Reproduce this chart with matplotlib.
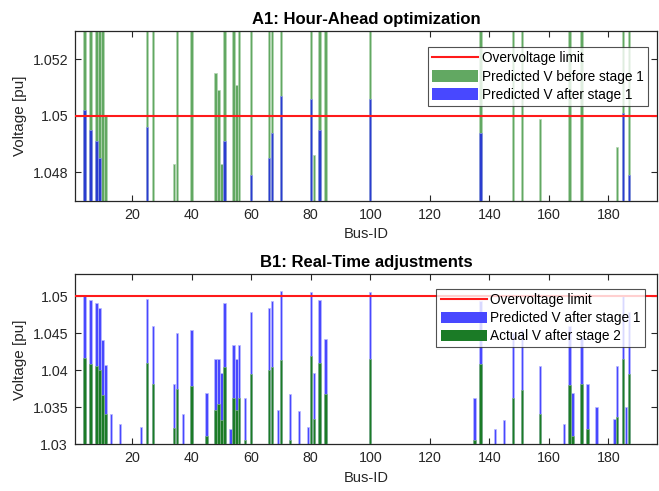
import matplotlib
matplotlib.use("Agg")
import matplotlib.pyplot as plt
from matplotlib.patches import Patch
from matplotlib.lines import Line2D
import numpy as np

plt.rcParams["font.family"] = ["Liberation Sans", "DejaVu Sans"]

# ── data ───────────────────────────────────────────────────────────────────
buses = [4, 6, 8, 9, 10, 11, 13, 16, 23, 25, 27, 34, 35, 37, 40, 45, 48, 49,
         50, 51, 53, 54, 55, 56, 58, 60, 66, 67, 69, 70, 73, 76, 79, 80, 81,
         83, 85, 100, 135, 137, 142, 145, 148, 151, 157, 165, 167, 168, 171,
         173, 176, 182, 183, 185, 186, 187]

# predicted voltage before stage 1 (values above 1.053 are off-scale)
v_before = [1.056, 1.056, 1.056, 1.056, 1.056, 1.0500, 1.0341, 1.0327, 1.0324,
            1.056, 1.056, 1.0483, 1.056, 1.0341, 1.056, 1.0369, 1.0515, 1.0509,
            1.0483, 1.056, 1.0321, 1.056, 1.0511, 1.056, 1.0363, 1.056, 1.056,
            1.056, 1.0346, 1.056, 1.0368, 1.0345, 1.0323, 1.056, 1.0486,
            1.056, 1.056, 1.056, 1.0363, 1.056, 1.0321, 1.0333, 1.056, 1.056,
            1.0499, 1.0327, 1.056, 1.0369, 1.056, 1.0382, 1.0351, 1.0334,
            1.0489, 1.056, 1.0351, 1.056]

# predicted voltage after stage 1
v_after1 = [1.0502, 1.0495, 1.0491, 1.0485, 1.0441, 1.0407, 1.0341, 1.0327,
            1.0324, 1.0496, 1.0460, 1.0382, 1.0451, 1.0341, 1.0455, 1.0369,
            1.0415, 1.0416, 1.0396, 1.0491, 1.0321, 1.0435, 1.0415, 1.0435,
            1.0363, 1.0479, 1.0485, 1.0494, 1.0346, 1.0507, 1.0368, 1.0345,
            1.0323, 1.0506, 1.0397, 1.0495, 1.0443, 1.0506, 1.0363, 1.0494,
            1.0321, 1.0333, 1.0450, 1.0455, 1.0406, 1.0327, 1.0460, 1.0369,
            1.0445, 1.0382, 1.0351, 1.0334, 1.0406, 1.0501, 1.0351, 1.0479]

# actual voltage after stage 2 (values below 1.03 are off-scale)
v_actual = [1.0417, 1.0409, 1.0406, 1.0401, 1.0367, 1.0341, 1.028, 1.028,
            1.028, 1.0410, 1.0382, 1.0322, 1.0375, 1.028, 1.0379, 1.0311,
            1.0347, 1.0354, 1.0333, 1.0405, 1.028, 1.0362, 1.0347, 1.0362,
            1.0306, 1.0395, 1.0401, 1.0405, 1.028, 1.0414, 1.0306, 1.028,
            1.028, 1.0420, 1.0334, 1.0410, 1.0368, 1.0415, 1.0306, 1.0409,
            1.028, 1.028, 1.0363, 1.0374, 1.0341, 1.028, 1.0380, 1.0311,
            1.0382, 1.0321, 1.028, 1.028, 1.0337, 1.0415, 1.028, 1.0395]

v_limit = 1.05

# ── styling ────────────────────────────────────────────────────────────────
GREEN_LIGHT = "#62a862"
GREEN_DARK = "#1b7b26"
BLUE = "#4848ff"
BLUE_ON_GREEN = "#2a3ccf"
TXT = "#262626"
BAR_W = 0.8


def _style(ax, ylim, yticks, yticklabels):
    ax.set_xlim(0.8, 196.3)
    ax.set_ylim(*ylim)
    ax.set_xticks(np.arange(20, 181, 20))
    ax.set_yticks(yticks)
    ax.set_yticklabels(yticklabels)
    ax.tick_params(direction="in", length=4, width=0.8, colors=TXT,
                   labelsize=10.3, top=True, right=True, pad=5)
    for s in ax.spines.values():
        s.set_color(TXT)
        s.set_linewidth(0.9)
    ax.set_xlabel("Bus-ID", fontsize=10.5, color=TXT, labelpad=4)
    ax.set_ylabel("Voltage [pu]", fontsize=11, color=TXT, labelpad=4)


def _legend(ax, handles, labels, anchor):
    leg = ax.legend(handles, labels, loc="upper right", bbox_to_anchor=anchor,
                    fontsize=9.8, frameon=True, fancybox=False,
                    handlelength=3.4, handleheight=0.95, borderpad=0.3,
                    labelspacing=0.3, handletextpad=0.25, borderaxespad=0)
    leg.get_frame().set_edgecolor(TXT)
    leg.get_frame().set_linewidth(0.8)
    leg.set_zorder(10)
    return leg


fig = plt.figure(figsize=(6.59, 4.91), dpi=100)

# ── A1: hour-ahead optimization ────────────────────────────────────────────
ax1 = fig.add_axes([0.1138, 0.5912, 0.883, 0.3462])
ax1.bar(buses, v_before, width=BAR_W, color=GREEN_LIGHT,
        edgecolor="#b3d6b3", linewidth=0.5, zorder=2)
ax1.bar(buses, v_after1, width=BAR_W, color=BLUE_ON_GREEN,
        edgecolor="#8f9ae6", linewidth=0.5, zorder=3)
ax1.axhline(v_limit, color="#ff1a1a", linewidth=1.5, zorder=4)
_style(ax1, (1.047, 1.053), [1.048, 1.05, 1.052], ["1.048", "1.05", "1.052"])
ax1.set_title("A1: Hour-Ahead optimization", fontsize=12, fontweight="bold",
              color="black", pad=5)
_legend(ax1,
        [Line2D([], [], color="#ff1a1a", linewidth=1.5),
         Patch(facecolor=GREEN_LIGHT, edgecolor="none"),
         Patch(facecolor=BLUE, edgecolor="none")],
        ["Overvoltage limit", "Predicted V before stage 1",
         "Predicted V after stage 1"],
        (0.984, 0.902))

# ── B1: real-time adjustments ──────────────────────────────────────────────
ax2 = fig.add_axes([0.1138, 0.0951, 0.883, 0.3462])
ax2.bar(buses, v_after1, width=BAR_W, color=BLUE,
        edgecolor="#b9b9ff", linewidth=0.5, zorder=2)
ax2.bar(buses, v_actual, width=BAR_W, color=GREEN_DARK,
        edgecolor="#7fb386", linewidth=0.5, zorder=3)
ax2.axhline(v_limit, color="#ff1a1a", linewidth=1.5, zorder=4)
_style(ax2, (1.03, 1.053), [1.03, 1.035, 1.04, 1.045, 1.05],
       ["1.03", "1.035", "1.04", "1.045", "1.05"])
ax2.set_title("B1: Real-Time adjustments", fontsize=12, fontweight="bold",
              color="black", pad=5)
_legend(ax2,
        [Line2D([], [], color="#ff1a1a", linewidth=1.5),
         Patch(facecolor=BLUE, edgecolor="none"),
         Patch(facecolor=GREEN_DARK, edgecolor="none")],
        ["Overvoltage limit", "Predicted V after stage 1",
         "Actual V after stage 2"],
        (0.979, 0.914))

fig.savefig("out.png", dpi=100)
